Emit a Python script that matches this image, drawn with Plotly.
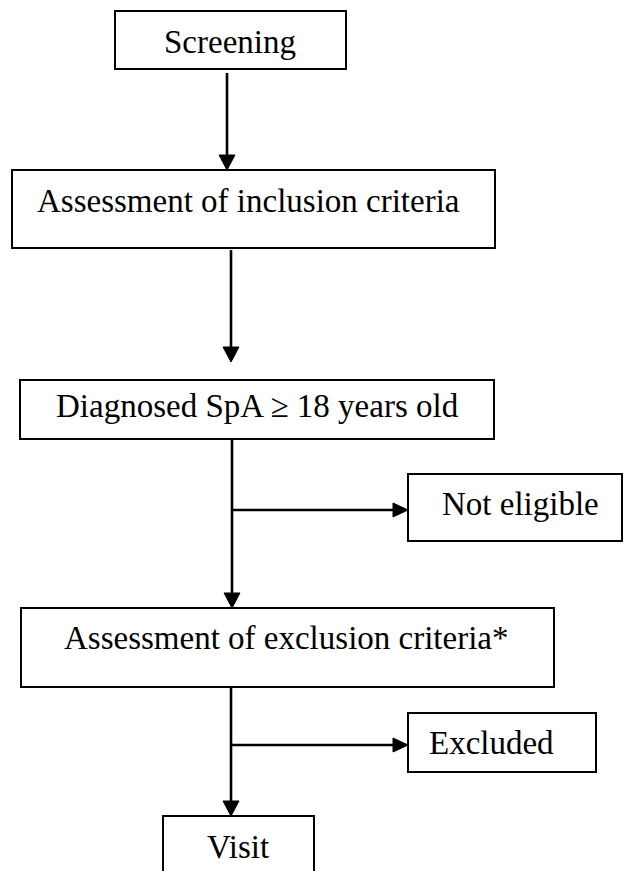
import plotly.graph_objects as go

# ---- content ----
node_ids = ["screen", "incl", "diag", "noteli", "excl", "excluded", "visit"]
node_labels = ["Screening", "Assessment of inclusion criteria",
               "Diagnosed SpA \u2265 18 years old", "Not eligible",
               "Assessment of exclusion criteria*", "Excluded", "Visit"]

# ---- layout geometry (pixel space of a 624 x 871 canvas) ----
W, H = 624, 871
boxes = {  # x0, y0, x1, y1
    "screen":   (115, 11, 346, 69),
    "incl":     (12, 170, 495, 248),
    "diag":     (20, 380, 494, 439),
    "noteli":   (408, 474, 622, 541),
    "excl":     (21, 608, 554, 687),
    "excluded": (408, 713, 596, 772),
    "visit":    (163, 816, 314, 900),
}
text_pos = {  # x centre, cap centre
    "screen":   (230, 42),
    "incl":     (248, 201),
    "diag":     (257, 406),
    "noteli":   (520, 504),
    "excl":     (286, 638),
    "excluded": (491, 743),
    "visit":    (238, 847),
}
# vertical arrows: x, y_start, y_tip
v_arrows = [(227, 73, 170), (231, 250, 362), (232, 439, 608), (231, 687, 816)]
# horizontal arrows: y, x_start, x_tip
h_arrows = [(510, 232, 408), (745, 231, 408)]

FONT = "Liberation Serif, Times New Roman, serif"
LW = 2.6
HEAD_L, HEAD_W = 15, 8

fig = go.Figure()
shapes = []
annotations = []

for nid, label in zip(node_ids, node_labels):
    x0, y0, x1, y1 = boxes[nid]
    shapes.append(dict(type="rect", xref="x", yref="y", x0=x0, y0=y0, x1=x1, y1=y1,
                       line=dict(color="black", width=2), fillcolor="white", layer="below"))
    tx, ty = text_pos[nid]
    annotations.append(dict(x=tx, y=ty, xref="x", yref="y", text=label, showarrow=False,
                            xanchor="center", yanchor="middle",
                            font=dict(family=FONT, size=33, color="black")))

for x, ys, yt in v_arrows:
    shapes.append(dict(type="line", xref="x", yref="y", x0=x, y0=ys, x1=x, y1=yt - HEAD_L + 1,
                       line=dict(color="black", width=LW)))
    shapes.append(dict(type="path", xref="x", yref="y",
                       path=f"M {x-HEAD_W} {yt-HEAD_L} L {x+HEAD_W} {yt-HEAD_L} L {x} {yt} Z",
                       fillcolor="black", line=dict(color="black", width=1)))

for y, xs, xt in h_arrows:
    shapes.append(dict(type="line", xref="x", yref="y", x0=xs, y0=y, x1=xt - HEAD_L + 1, y1=y,
                       line=dict(color="black", width=LW)))
    shapes.append(dict(type="path", xref="x", yref="y",
                       path=f"M {xt-HEAD_L} {y-HEAD_W+1} L {xt-HEAD_L} {y+HEAD_W-1} L {xt} {y} Z",
                       fillcolor="black", line=dict(color="black", width=1)))

fig.update_layout(
    width=W, height=H,
    margin=dict(l=0, r=0, t=0, b=0),
    paper_bgcolor="white", plot_bgcolor="white",
    xaxis=dict(range=[0, W], visible=False, fixedrange=True),
    yaxis=dict(range=[H, 0], visible=False, fixedrange=True),
    shapes=shapes, annotations=annotations, showlegend=False,
)
fig.write_html("out.html", config={"displayModeBar": False},
               post_script="document.body.style.margin='0px';document.body.style.overflow='hidden';")
